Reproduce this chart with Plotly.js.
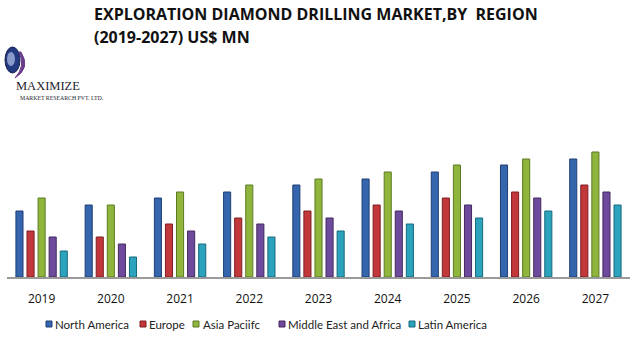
<!DOCTYPE html>
<html>
<head>
<meta charset="utf-8">
<script src="https://cdn.plot.ly/plotly-3.0.1.min.js"></script>
<style>html,body{margin:0;padding:0;background:#fff;}#chart{width:632px;height:340px;}</style>
</head>
<body>
<div id="chart"></div>
<script>
var years = ['2019','2020','2021','2022','2023','2024','2025','2026','2027'];
var northAmerica = [66, 72, 79, 85, 92, 98, 105, 112, 118];
var europe       = [46, 40, 53, 59, 66, 72, 79, 85, 92];
var asiaPacific  = [79, 72, 85, 92, 98, 105, 112, 118, 125];
var middleEast   = [40, 33, 46, 53, 59, 66, 72, 79, 85];
var latinAmerica = [26, 20, 33, 40, 46, 53, 59, 66, 72];
var seriesNames = ['North America', 'Europe', 'Asia Paciifc', 'Middle East and Africa', 'Latin America'];
var seriesData = [northAmerica, europe, asiaPacific, middleEast, latinAmerica];
var fills = ['#3565ad', '#c2373a', '#8fb53c', '#6e4a9c', '#2ba3bd'];
var edges = ['#1f3f75', '#7e1f22', '#5c7a22', '#44295f', '#16697c'];

// plot-area geometry (pixels) used to place free text / legend
var PL = 7, PW = 623, PB = 277, PH = 137;
function px(x) { return (x - PL) / PW; }
function py(y) { return (PB - y) / PH; }

var traces = seriesData.map(function (vals, i) {
  return {
    type: 'bar', name: seriesNames[i], x: years, y: vals,
    marker: { color: fills[i], line: { color: edges[i], width: 1 } },
    hoverinfo: 'skip', showlegend: false
  };
});

var shapes = [
  // logo globe
  { type: 'circle', xref: 'paper', yref: 'paper', xsizemode: 'pixel', ysizemode: 'pixel',
    xanchor: 0, yanchor: 1, x0: -2, x1: 13, y0: 67, y1: 93,
    fillcolor: '#243a80', line: { color: '#17224f', width: 1 } },
  { type: 'circle', xref: 'paper', yref: 'paper', xsizemode: 'pixel', ysizemode: 'pixel',
    xanchor: 0, yanchor: 1, x0: 0, x1: 8, y0: 74, y1: 88,
    fillcolor: '#b4c4ea', line: { width: 0 }, opacity: 0.7 },
  { type: 'path', xref: 'paper', yref: 'paper', xsizemode: 'pixel', ysizemode: 'pixel',
    xanchor: 0, yanchor: 1,
    path: 'M 14 88 Q 24 72 8 62 Q 19 74 12 88 Z',
    fillcolor: '#6a3c8c', line: { color: '#6a3c8c', width: 1 } }
];

var annotations = [
  { text: '<b>EXPLORATION DIAMOND DRILLING MARKET,BY  REGION</b>', xref: 'paper', yref: 'paper',
    xanchor: 'left', yanchor: 'middle', x: px(92), y: py(14), showarrow: false,
    font: { family: 'Open Sans, sans-serif', size: 16, color: '#111' } },
  { text: '<b>(2019-2027) US$ MN</b>', xref: 'paper', yref: 'paper',
    xanchor: 'left', yanchor: 'middle', x: px(92), y: py(37), showarrow: false,
    font: { family: 'Open Sans, sans-serif', size: 16, color: '#111' } },
  { text: 'MAXIMIZE', xref: 'paper', yref: 'paper', xanchor: 'left', yanchor: 'middle',
    x: px(14), y: py(86), showarrow: false,
    font: { family: 'Liberation Serif, serif', size: 12.5, color: '#1d1d2e' } },
  { text: 'MARKET RESEARCH PVT. LTD.', xref: 'paper', yref: 'paper', xanchor: 'left', yanchor: 'middle',
    x: px(18), y: py(98), showarrow: false,
    font: { family: 'Liberation Serif, serif', size: 5.8, color: '#1d1d2e' } }
];

// custom legend: swatch left edge and text left edge, in pixels
var legendSwatchX = [46, 140, 193, 279, 409];
var legendTextX = [53, 147, 201, 286, 416];
var legendY = 324;
seriesNames.forEach(function (name, i) {
  shapes.push({ type: 'rect', xref: 'paper', yref: 'paper', xsizemode: 'pixel', ysizemode: 'pixel',
    xanchor: px(legendSwatchX[i]), yanchor: py(legendY), x0: 0, x1: 6, y0: -3, y1: 3,
    fillcolor: fills[i], line: { color: edges[i], width: 1 } });
  annotations.push({ text: name, xref: 'paper', yref: 'paper', xanchor: 'left', yanchor: 'middle',
    x: px(legendTextX[i]), y: py(legendY), showarrow: false,
    font: { family: 'Lato, sans-serif', size: 11.5, color: '#222' } });
});

var layout = {
  width: 632, height: 340,
  margin: { l: PL, r: 632 - PL - PW, t: PB - PH, b: 340 - PB },
  paper_bgcolor: '#fff', plot_bgcolor: '#fff',
  barmode: 'group', bargap: 0.2, bargroupgap: 0.36,
  showlegend: false,
  xaxis: {
    type: 'category', showline: true, linecolor: '#9a9a9a', linewidth: 1.5,
    ticks: '', ticklabelstandoff: 10,
    tickfont: { family: 'Open Sans, sans-serif', size: 12, color: '#111' },
    showgrid: false, zeroline: false, fixedrange: true
  },
  yaxis: { range: [0, PH], visible: false, showgrid: false, zeroline: false, fixedrange: true },
  shapes: shapes,
  annotations: annotations
};

Plotly.newPlot('chart', traces, layout, { displayModeBar: false, staticPlot: true });
</script>
</body>
</html>
